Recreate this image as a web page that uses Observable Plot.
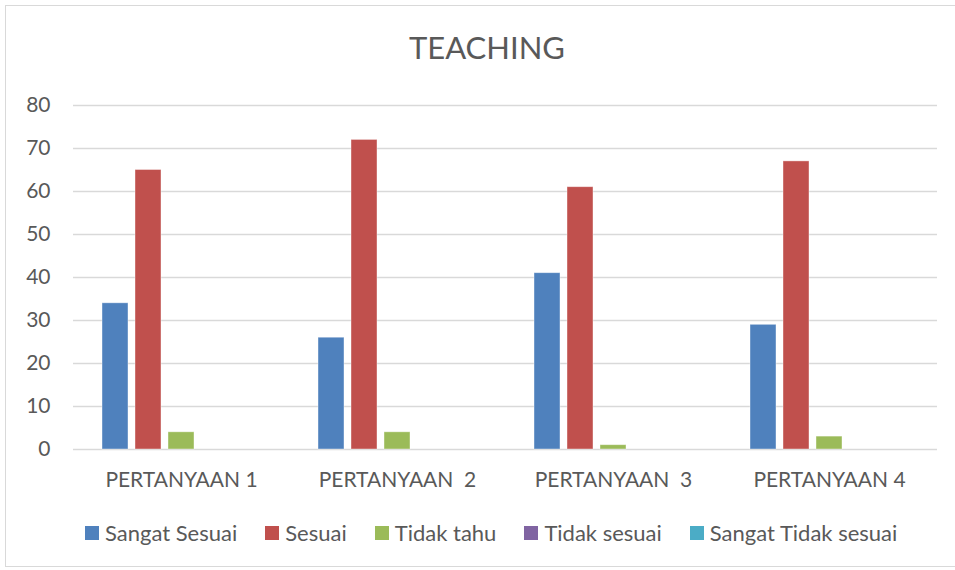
<!DOCTYPE html>
<html>
<head>
<meta charset="utf-8">
<script src="https://cdn.jsdelivr.net/npm/d3@7"></script>
<script src="https://cdn.jsdelivr.net/npm/@observablehq/plot@0.6"></script>
<style>
  html, body { margin: 0; padding: 0; background: #fff; overflow: hidden; }
  body { width: 955px; height: 570px; position: relative; font-family: Lato, "Open Sans", sans-serif; color: #595959; }
  #frame { position: absolute; left: 5px; top: 5px; width: 960px; height: 562px; border: 1px solid #d9d9d9; box-sizing: border-box; }
  #title { position: absolute; left: 487px; top: 32px; transform: translateX(-50%); font-size: 31px; line-height: 1; white-space: nowrap; }
  #chart { position: absolute; left: 0; top: 85px; }
  #chart svg text { white-space: pre; }
  #legend { position: absolute; left: 85px; top: 522px; display: flex; align-items: center; gap: 28px; font-size: 22px; line-height: 22px; white-space: nowrap; }
  #legend .item { display: flex; align-items: center; }
  #legend .sw { width: 14px; height: 14px; margin-right: 6px; }
</style>
</head>
<body>
<div id="frame"></div>
<div id="title">TEACHING</div>
<div id="chart"></div>
<div id="legend"></div>
<script>
const categories = ["PERTANYAAN 1", "PERTANYAAN  2", "PERTANYAAN  3", "PERTANYAAN 4"];
const seriesNames = ["Sangat Sesuai", "Sesuai", "Tidak tahu", "Tidak sesuai", "Sangat Tidak sesuai"];
const sangatSesuai = [34, 26, 41, 29];
const sesuai = [65, 72, 61, 67];
const tidakTahu = [4, 4, 1, 3];
const tidakSesuai = [0, 0, 0, 0];
const sangatTidakSesuai = [0, 0, 0, 0];
const yTicks = [0, 10, 20, 30, 40, 50, 60, 70, 80];
const colors = ["#4f81bd", "#c0504d", "#9bbb59", "#8064a2", "#4bacc6"];

const seriesValues = [sangatSesuai, sesuai, tidakTahu, tidakSesuai, sangatTidakSesuai];
const table = [];
categories.forEach((c, i) => {
  seriesNames.forEach((s, j) => {
    table.push({category: c, series: s, value: seriesValues[j][i]});
  });
});

const chart = Plot.plot({
  width: 955,
  height: 414,
  marginLeft: 72,
  marginRight: 18,
  marginTop: 20,
  marginBottom: 50,
  style: {fontFamily: "Lato, 'Open Sans', sans-serif", fontSize: "21px", color: "#595959", background: "transparent"},
  fx: {domain: categories, padding: 0, axis: "bottom", label: null, tickSize: 0, tickPadding: 23},
  x: {domain: seriesNames, paddingInner: 0.212, paddingOuter: 0.87, axis: null},
  y: {domain: [0, 80], ticks: yTicks, tickSize: 0, tickPadding: 23, label: null, tickFormat: d => String(d)},
  color: {domain: seriesNames, range: colors},
  marks: [
    Plot.ruleY(yTicks, {stroke: "#d9d9d9", strokeWidth: 1.3}),
    Plot.barY(table, {fx: "category", x: "series", y: "value", fill: "series", stroke: "#ffffff", strokeOpacity: 0.5, strokeWidth: 0.8})
  ]
});
document.getElementById("chart").appendChild(chart);

const legend = document.getElementById("legend");
seriesNames.forEach((s, j) => {
  const item = document.createElement("div");
  item.className = "item";
  const sw = document.createElement("span");
  sw.className = "sw";
  sw.style.background = colors[j];
  const t = document.createElement("span");
  t.textContent = s;
  item.appendChild(sw);
  item.appendChild(t);
  legend.appendChild(item);
});
</script>
</body>
</html>
